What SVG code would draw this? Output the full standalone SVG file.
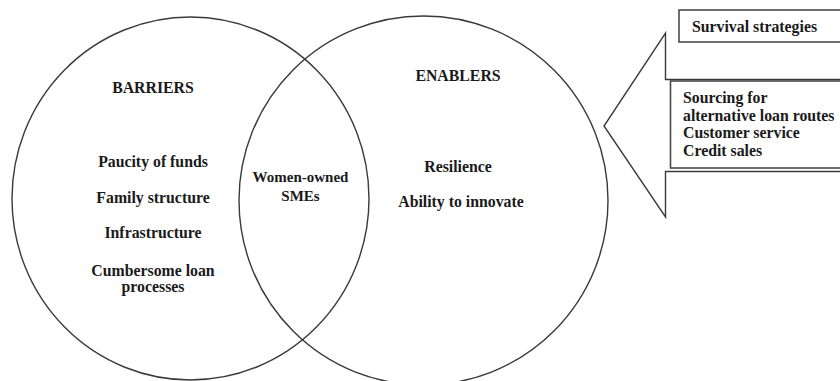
<svg xmlns="http://www.w3.org/2000/svg" width="840" height="381" viewBox="0 0 840 381">
<style>
  .c { fill: none; stroke: #3a3a3a; stroke-width: 1.4; }
  .b { fill: #ffffff; stroke: #4a4a4a; stroke-width: 1.6; }
  .t { font-family: "Liberation Serif", "Times New Roman", serif; font-weight: bold; font-size: 15.8px; fill: #1a1a1a; }
  .m { text-anchor: middle; }
</style>
<rect width="840" height="381" fill="#ffffff"/>
<g id="barriers">
  <ellipse class="c" cx="190.5" cy="198.5" rx="178.5" ry="181.5"/>
  <text class="t m" x="153" y="93">BARRIERS</text>
  <text class="t m" x="153" y="167">Paucity of funds</text>
  <text class="t m" x="153" y="203">Family structure</text>
  <text class="t m" x="153" y="238">Infrastructure</text>
  <text class="t m" x="153" y="276">Cumbersome loan</text>
  <text class="t m" x="153" y="292">processes</text>
</g>
<g id="enablers">
  <ellipse class="c" cx="423.5" cy="200.5" rx="184.5" ry="184.5"/>
  <text class="t m" x="458" y="81">ENABLERS</text>
  <text class="t m" x="458" y="172">Resilience</text>
  <text class="t m" x="461" y="207">Ability to innovate</text>
</g>
<g id="women-owned-smes">
  <text class="t m" x="300.5" y="182" style="font-size:15px">Women-owned</text>
  <text class="t m" x="300.5" y="201" style="font-size:15px">SMEs</text>
</g>
<g id="connectors">
  <polyline class="c" points="842,79.5 665.5,79.5 665.5,33 604,126 665.5,217 665.5,171.5 842,171.5"/>
</g>
<g id="survival-strategies">
  <rect class="b" x="679" y="10" width="170" height="32"/>
  <text class="t" x="692" y="32">Survival strategies</text>
</g>
<g id="strategies-list">
  <rect class="b" x="670.5" y="81" width="180" height="87"/>
  <text class="t" x="683" y="103">Sourcing for</text>
  <text class="t" x="683" y="120.5">alternative loan routes</text>
  <text class="t" x="683" y="138">Customer service</text>
  <text class="t" x="683" y="156">Credit sales</text>
</g>
</svg>
